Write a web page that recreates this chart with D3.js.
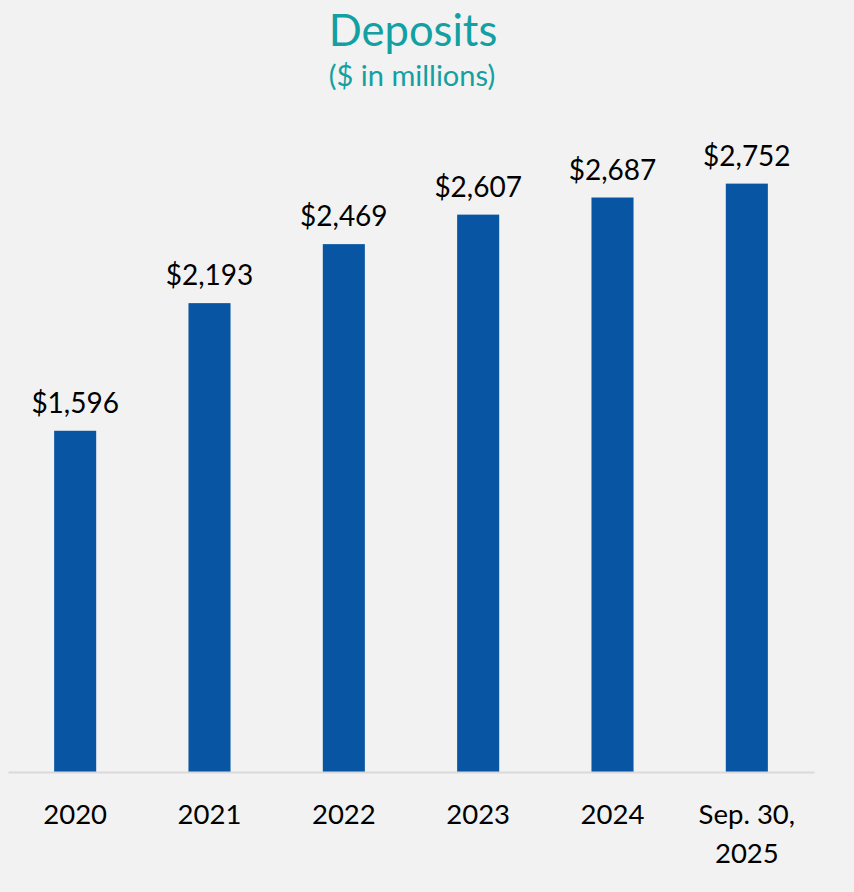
<!DOCTYPE html>
<html><head><meta charset="utf-8">
<script src="https://cdn.jsdelivr.net/npm/d3@7"></script>
<style>html,body{margin:0;padding:0;background:#f2f2f2;}svg{display:block;}</style>
</head><body>
<script>
const categories = ["2020","2021","2022","2023","2024","Sep. 30,\n2025"];
const values = [1596, 2193, 2469, 2607, 2687, 2752];
const title = "Deposits";
const subtitle = "($ in millions)";

const W = 854, H = 892;
const svg = d3.select("body").append("svg").attr("width", W).attr("height", H);
svg.append("rect").attr("width", W).attr("height", H).attr("fill", "#f2f2f2");

const font = "Lato, 'Open Sans', sans-serif";
const x = d3.scaleBand().domain(categories).range([8, 814]).paddingInner(0.687).paddingOuter(0.3435);
const y = d3.scaleLinear().domain([0, 3000]).range([772, 772 - 0.2138 * 3000]);

svg.append("text").attr("x", 413).attr("y", 46).attr("text-anchor", "middle")
  .attr("font-family", font).attr("font-size", 43.5).attr("fill", "#12a0a2").text(title);
svg.append("text").attr("x", 412).attr("y", 86).attr("text-anchor", "middle")
  .attr("font-family", font).attr("font-size", 29).attr("fill", "#12a0a2").text(subtitle);

const data = categories.map((c, i) => ({c, v: values[i]}));
svg.selectAll("rect.bar").data(data).join("rect").attr("class", "bar")
  .attr("x", d => x(d.c)).attr("width", x.bandwidth())
  .attr("y", d => y(d.v)).attr("height", d => y(0) - y(d.v))
  .attr("fill", "#0755a3");

svg.selectAll("text.val").data(data).join("text").attr("class", "val")
  .attr("x", d => x(d.c) + x.bandwidth() / 2).attr("y", d => y(d.v) - 18)
  .attr("text-anchor", "middle").attr("font-family", font).attr("font-size", 28)
  .attr("fill", "#000").text(d => "$" + d3.format(",")(d.v));

const axis = svg.append("g").attr("transform", "translate(0,772)")
  .call(d3.axisBottom(x).tickSize(0).tickPadding(0).tickFormat(""));
axis.select(".domain").attr("stroke", "#d9d9d9").attr("stroke-width", 2);
axis.selectAll(".tick").each(function(d) {
  const t = d3.select(this).select("text");
  t.attr("font-family", font).attr("font-size", 27.5).attr("fill", "#000").attr("dy", null).attr("y", 0);
  d.split("\n").forEach((line, i) => {
    t.append("tspan").attr("x", 0).attr("y", 52 + i * 39).text(line);
  });
});
</script>
</body></html>
